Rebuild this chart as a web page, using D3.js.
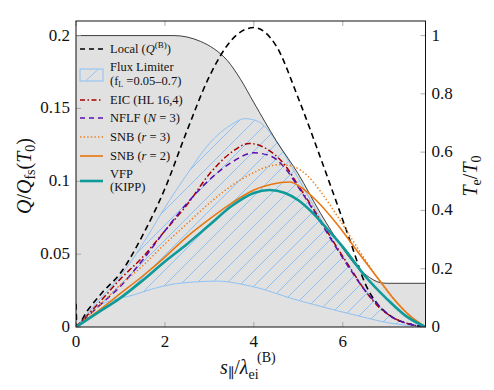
<!DOCTYPE html>
<html>
<head>
<meta charset="utf-8">
<script src="https://cdn.jsdelivr.net/npm/d3@7"></script>
<style>
  body { margin: 0; background: #fff; }
</style>
</head>
<body>
<script>
const width = 494;
const height = 390;

// temperature profile T_e/T_0 (right axis)
const sTemp = [0, 2.2, 2.5, 2.8, 3.1, 3.4, 3.7, 4.0, 4.5, 5.0, 5.5, 6.0, 6.3, 6.6, 6.85, 7.0, 7.86];
const temp  = [1, 1, 0.995, 0.98, 0.955, 0.915, 0.85, 0.77, 0.64, 0.525, 0.39, 0.27, 0.21, 0.17, 0.152, 0.15, 0.15];

// heat flux curves Q/Q_fs(T_0) (left axis)
const sLocal = [0, 0.02, 0.25, 0.6, 1.0, 1.5, 2.0, 2.5, 3.0, 3.5, 4.0, 4.5, 5.0, 5.5, 5.9, 6.2, 6.5, 6.8, 7.1, 7.5, 7.86];
const qLocal = [0.016, 0.001, 0.011, 0.024, 0.037, 0.063, 0.095, 0.135, 0.172, 0.197, 0.2055, 0.193, 0.157, 0.116, 0.082, 0.056, 0.03, 0.015, 0.007, 0.002, 0];

const sFLhi = [0, 0.5, 1.0, 1.5, 2.0, 2.5, 3.0, 3.5, 3.8, 4.1, 4.6, 5.0, 5.4, 5.8, 6.2, 6.5, 6.8, 7.1, 7.5, 7.86];
const qFLhi = [0, 0.018, 0.035, 0.057, 0.082, 0.105, 0.126, 0.139, 0.143, 0.141, 0.123, 0.102, 0.080, 0.058, 0.039, 0.026, 0.015, 0.007, 0.002, 0];

const sFLlo = [0, 0.3, 0.6, 0.9, 1.3, 1.7, 2.2, 2.7, 3.2, 3.7, 4.2, 4.8, 5.4, 5.9, 6.5, 7.0, 7.5, 7.86];
const qFLlo = [0, 0.010, 0.016, 0.019, 0.022, 0.026, 0.0295, 0.031, 0.0315, 0.0295, 0.026, 0.020, 0.015, 0.011, 0.0065, 0.003, 0.001, 0];

const sEIC = [0, 0.5, 1.0, 1.5, 2.0, 2.5, 3.0, 3.5, 3.9, 4.3, 4.7, 5.0, 5.4, 5.8, 6.2, 6.5, 6.8, 7.1, 7.5, 7.86];
const qEIC = [0, 0.016, 0.033, 0.048, 0.066, 0.084, 0.105, 0.12, 0.126, 0.122, 0.111, 0.097, 0.078, 0.058, 0.039, 0.025, 0.014, 0.007, 0.002, 0];

const sNFLF = [0, 0.5, 1.0, 1.5, 2.0, 2.5, 3.0, 3.5, 4.0, 4.4, 4.7, 5.0, 5.4, 5.8, 6.2, 6.5, 6.8, 7.1, 7.5, 7.86];
const qNFLF = [0, 0.014, 0.028, 0.046, 0.066, 0.085, 0.101, 0.113, 0.1195, 0.117, 0.109, 0.096, 0.077, 0.057, 0.038, 0.025, 0.015, 0.007, 0.002, 0];

const sSNB3 = [0, 0.5, 1.0, 1.5, 2.0, 2.5, 3.0, 3.5, 4.0, 4.3, 4.6, 4.9, 5.2, 5.5, 5.9, 6.4, 6.8, 7.1, 7.5, 7.86];
const qSNB3 = [0, 0.014, 0.029, 0.042, 0.057, 0.071, 0.085, 0.097, 0.106, 0.110, 0.1115, 0.110, 0.104, 0.093, 0.075, 0.051, 0.033, 0.021, 0.008, 0];

const sSNB2 = [0, 0.5, 1.0, 1.5, 2.0, 2.5, 3.0, 3.5, 4.0, 4.4, 4.8, 5.1, 5.4, 5.9, 6.4, 6.8, 7.1, 7.5, 7.86];
const qSNB2 = [0, 0.011, 0.023, 0.035, 0.048, 0.062, 0.074, 0.085, 0.094, 0.098, 0.0995, 0.095, 0.087, 0.0695, 0.049, 0.033, 0.021, 0.008, 0];

const sVFP = [0, 0.5, 1.0, 1.5, 2.0, 2.5, 3.0, 3.5, 4.0, 4.35, 4.7, 5.0, 5.3, 5.6, 6.0, 6.5, 7.0, 7.4, 7.86];
const qVFP = [0, 0.010, 0.020, 0.032, 0.045, 0.057, 0.070, 0.083, 0.092, 0.094, 0.092, 0.087, 0.079, 0.069, 0.055, 0.035, 0.019, 0.008, 0];

const xTicks = [0, 2, 4, 6];
const yTicks = [0, 0.05, 0.1, 0.15, 0.2];
const yTickLabels = ['0', '0.05', '0.1', '0.15', '0.2'];
const tTicks = [0, 0.2, 0.4, 0.6, 0.8, 1];

const mLeft = 76, mRight = 425.5, mTop = 21, mBottom = 327;

const x = d3.scaleLinear().domain([0, 7.86]).range([mLeft, mRight]);
const y = d3.scaleLinear().domain([0, 0.21]).range([mBottom, mTop]);
const yT = d3.scaleLinear().domain([0, 1.05]).range([mBottom, mTop]);

const svg = d3.create('svg')
  .attr('width', width)
  .attr('height', height)
  .style('font-family', "'Liberation Serif', 'DejaVu Serif', serif")
  .attr('fill', '#111');
document.body.appendChild(svg.node());

const defs = svg.append('defs');
defs.append('clipPath').attr('id', 'plotClip')
  .append('rect').attr('x', mLeft).attr('y', mTop).attr('width', mRight - mLeft).attr('height', mBottom - mTop);
const blue = '#84bdf5';
const hatch = defs.append('pattern')
  .attr('id', 'hatch')
  .attr('patternUnits', 'userSpaceOnUse')
  .attr('width', 15).attr('height', 15);
hatch.append('path')
  .attr('d', 'M0,15 L15,0 M-1,1 L1,-1 M14,16 L16,14')
  .attr('stroke', blue).attr('stroke-width', 0.9);

const plot = svg.append('g').attr('clip-path', 'url(#plotClip)');

// temperature background
const tempPts = d3.zip(sTemp, temp);
plot.append('path')
  .datum(tempPts)
  .attr('fill', '#e1e1e1')
  .attr('d', d3.area().x(d => x(d[0])).y0(mBottom).y1(d => yT(d[1])).curve(d3.curveMonotoneX));

// flux limiter band
const hiPts = d3.zip(sFLhi, qFLhi);
const loPts = d3.zip(sFLlo, qFLlo);
const lineQ = d3.line().x(d => x(d[0])).y(d => y(d[1])).curve(d3.curveMonotoneX);
const bandPath = lineQ(hiPts) + 'L' + lineQ(loPts.slice().reverse()).slice(1) + 'Z';
plot.append('path')
  .attr('d', bandPath)
  .attr('fill', 'url(#hatch)');
plot.append('path').datum(hiPts).attr('d', lineQ).attr('fill', 'none').attr('stroke', blue).attr('stroke-width', 0.9);
plot.append('path').datum(loPts).attr('d', lineQ).attr('fill', 'none').attr('stroke', blue).attr('stroke-width', 0.9);

// temperature line
plot.append('path')
  .datum(tempPts)
  .attr('fill', 'none')
  .attr('stroke', '#111')
  .attr('stroke-width', 0.8)
  .attr('d', d3.line().x(d => x(d[0])).y(d => yT(d[1])).curve(d3.curveMonotoneX));

const series = [
  { s: sLocal, q: qLocal, color: '#000', w: 1.6, dash: '6,4' },
  { s: sEIC, q: qEIC, color: '#a80000', w: 1.5, dash: '6,2.5,1.5,2.5' },
  { s: sNFLF, q: qNFLF, color: '#5a10b0', w: 1.5, dash: '6,4' },
  { s: sSNB3, q: qSNB3, color: '#ee7d1c', w: 1.5, dash: '1.4,2.2' },
  { s: sSNB2, q: qSNB2, color: '#e8770f', w: 1.6, dash: null },
  { s: sVFP, q: qVFP, color: '#0f9a9a', w: 2.6, dash: null }
];

series.forEach(d => {
  plot.append('path')
    .datum(d3.zip(d.s, d.q))
    .attr('d', lineQ)
    .attr('fill', 'none')
    .attr('stroke', d.color)
    .attr('stroke-width', d.w)
    .attr('stroke-dasharray', d.dash);
});

// ticks (inward, grey)
const tk = svg.append('g').attr('stroke', '#999').attr('stroke-width', 0.8);
xTicks.forEach(v => {
  tk.append('line').attr('x1', x(v)).attr('x2', x(v)).attr('y1', mBottom).attr('y2', mBottom - 5);
  tk.append('line').attr('x1', x(v)).attr('x2', x(v)).attr('y1', mTop).attr('y2', mTop + 5);
});
yTicks.forEach(v => {
  tk.append('line').attr('x1', mLeft).attr('x2', mLeft + 5).attr('y1', y(v)).attr('y2', y(v));
});
tTicks.forEach(v => {
  tk.append('line').attr('x1', mRight).attr('x2', mRight - 5).attr('y1', yT(v)).attr('y2', yT(v));
});

// frame
svg.append('rect')
  .attr('x', mLeft).attr('y', mTop)
  .attr('width', mRight - mLeft).attr('height', mBottom - mTop)
  .attr('fill', 'none').attr('stroke', '#111').attr('stroke-width', 1);

// tick labels
const fs = 17;
svg.append('g').selectAll('text').data(xTicks).join('text')
  .attr('x', d => x(d)).attr('y', mBottom + 20)
  .attr('text-anchor', 'middle').attr('font-size', fs)
  .text(d => d);
svg.append('g').selectAll('text').data(yTicks).join('text')
  .attr('x', mLeft - 6).attr('y', d => y(d) + 5)
  .attr('text-anchor', 'end').attr('font-size', fs)
  .text((d, i) => yTickLabels[i]);
svg.append('g').selectAll('text').data(tTicks).join('text')
  .attr('x', mRight + 6).attr('y', d => yT(d) + 5)
  .attr('text-anchor', 'start').attr('font-size', fs)
  .text(d => d);

// axis labels
const yl = svg.append('text')
  .attr('transform', 'translate(31,176) rotate(-90)')
  .attr('text-anchor', 'middle').attr('font-size', 20);
yl.append('tspan').attr('font-style', 'italic').text('Q');
yl.append('tspan').text('/');
yl.append('tspan').attr('font-style', 'italic').text('Q');
yl.append('tspan').attr('font-size', 14).attr('dy', 4).text('fs');
yl.append('tspan').attr('dy', -4).text('(');
yl.append('tspan').attr('font-style', 'italic').text('T');
yl.append('tspan').attr('font-size', 14).attr('dy', 4).text('0');
yl.append('tspan').attr('dy', -4).text(')');

const xl = svg.append('text')
  .attr('x', 220).attr('y', 374)
  .attr('font-size', 20);
xl.append('tspan').attr('font-style', 'italic').text('s');
xl.append('tspan').attr('font-size', 14).attr('dy', 4).text('\u2225');
xl.append('tspan').attr('dy', -4).text('/');
xl.append('tspan').attr('font-style', 'italic').text('\u03bb');
xl.append('tspan').attr('font-size', 14).attr('dy', 5).text('ei');
svg.append('text')
  .attr('x', 257).attr('y', 362)
  .attr('font-size', 14).text('(B)');

const tl = svg.append('text')
  .attr('transform', 'translate(477,176) rotate(-90)')
  .attr('text-anchor', 'middle').attr('font-size', 20);
tl.append('tspan').attr('font-style', 'italic').text('T');
tl.append('tspan').attr('font-size', 14).attr('dy', 4).text('e');
tl.append('tspan').attr('dy', -4).text('/');
tl.append('tspan').attr('font-style', 'italic').text('T');
tl.append('tspan').attr('font-size', 14).attr('dy', 4).text('0');

// legend
const lg = svg.append('g').attr('font-size', 12.5);
const lx0 = 80, lx1 = 103, tx = 110;
const legendLines = [
  { yy: 49, color: '#000', w: 1.6, dash: '5,4' },
  { yy: 100, color: '#a80000', w: 1.5, dash: '5,2.5,1.5,2.5' },
  { yy: 118, color: '#5a10b0', w: 1.5, dash: '5,4' },
  { yy: 137, color: '#ee7d1c', w: 1.5, dash: '1.4,2.2' },
  { yy: 156, color: '#e8770f', w: 1.6, dash: null },
  { yy: 181, color: '#0f9a9a', w: 2.6, dash: null }
];
legendLines.forEach(d => {
  lg.append('line')
    .attr('x1', lx0).attr('x2', lx1).attr('y1', d.yy).attr('y2', d.yy)
    .attr('stroke', d.color).attr('stroke-width', d.w).attr('stroke-dasharray', d.dash);
});
lg.append('rect').attr('x', lx0).attr('y', 69).attr('width', lx1 - lx0).attr('height', 12)
  .attr('fill', 'none').attr('stroke', blue).attr('stroke-width', 0.9);
lg.append('line').attr('x1', 86).attr('y1', 80.5).attr('x2', 98).attr('y2', 69.5)
  .attr('stroke', blue).attr('stroke-width', 0.8);

let t = lg.append('text').attr('x', tx).attr('y', 53);
t.append('tspan').text('Local (');
t.append('tspan').attr('font-style', 'italic').text('Q');
t.append('tspan').attr('font-size', 9).attr('dy', -5).text('(B)');
t.append('tspan').attr('dy', 5).text(')');

lg.append('text').attr('x', tx).attr('y', 71).text('Flux Limiter');
t = lg.append('text').attr('x', tx).attr('y', 85);
t.append('tspan').text('(f');
t.append('tspan').attr('font-size', 8).attr('dy', 2).text('L');
t.append('tspan').attr('dy', -2).text(' =0.05\u20130.7)');

lg.append('text').attr('x', tx).attr('y', 104).text('EIC (HL 16,4)');
t = lg.append('text').attr('x', tx).attr('y', 122);
t.append('tspan').text('NFLF (');
t.append('tspan').attr('font-style', 'italic').text('N');
t.append('tspan').text(' = 3)');
t = lg.append('text').attr('x', tx).attr('y', 141);
t.append('tspan').text('SNB (');
t.append('tspan').attr('font-style', 'italic').text('r');
t.append('tspan').text(' = 3)');
t = lg.append('text').attr('x', tx).attr('y', 160);
t.append('tspan').text('SNB (');
t.append('tspan').attr('font-style', 'italic').text('r');
t.append('tspan').text(' = 2)');
lg.append('text').attr('x', tx).attr('y', 178).text('VFP');
lg.append('text').attr('x', tx).attr('y', 191).text('(KIPP)');
</script>
</body>
</html>
